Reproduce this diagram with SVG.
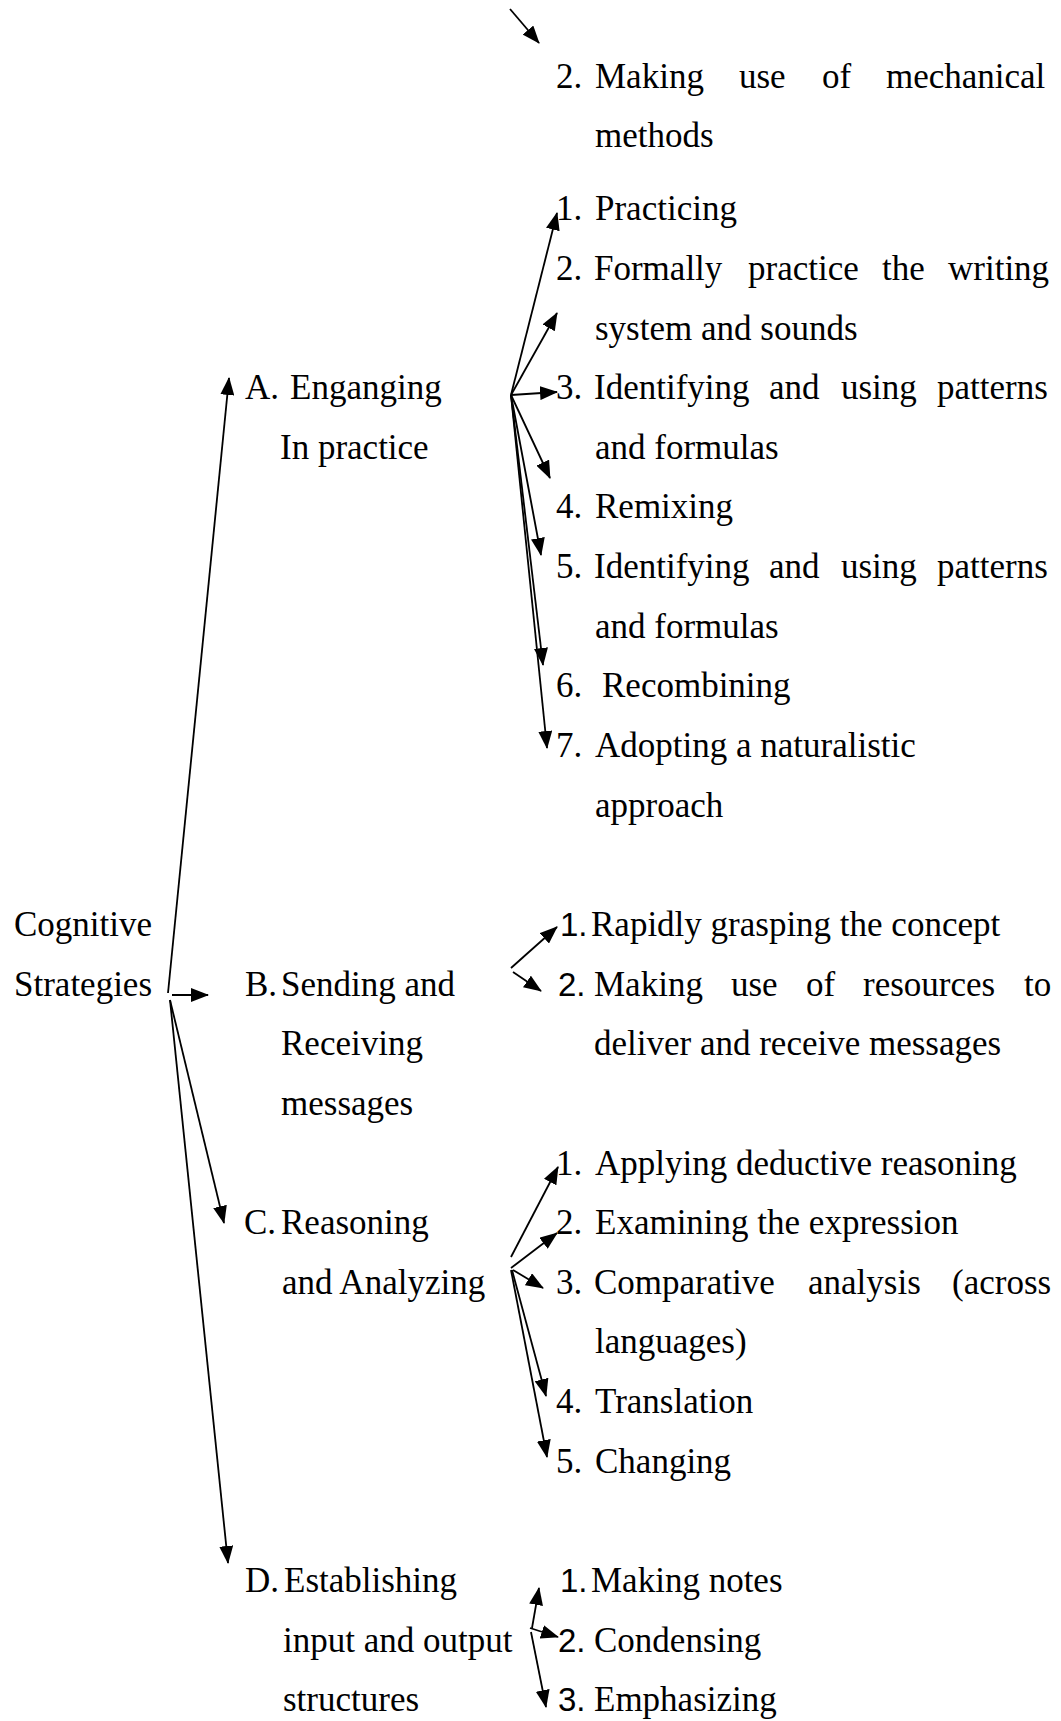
<svg xmlns="http://www.w3.org/2000/svg" width="1061" height="1721" viewBox="0 0 1061 1721">
<style>
text{font-family:"Liberation Serif","Times New Roman",serif;font-size:35px;fill:#000}
.sn{font-family:"Liberation Sans",Arial,sans-serif;font-size:33px}
.c line{stroke:#000;stroke-width:1.8;fill:none;marker-end:url(#ah)}
</style>
<defs>
<marker id="ah" markerUnits="userSpaceOnUse" markerWidth="18" markerHeight="14" refX="17" refY="7" orient="auto">
<path d="M0,0 L18,7 L0,14 z" fill="#000"/>
</marker>
</defs>
<rect width="1061" height="1721" fill="#fff"/>

<g class="c" id="connectors">
<line x1="510" y1="9" x2="539" y2="43"/>
<line x1="168" y1="993" x2="229" y2="378"/>
<line x1="172" y1="995" x2="208" y2="995"/>
<line x1="170" y1="1000" x2="224" y2="1223"/>
<line x1="170" y1="1000" x2="228" y2="1563"/>
<line x1="511" y1="395" x2="557" y2="213"/>
<line x1="511" y1="395" x2="557" y2="313"/>
<line x1="511" y1="395" x2="557" y2="392"/>
<line x1="511" y1="395" x2="550" y2="478"/>
<line x1="511" y1="395" x2="541" y2="555"/>
<line x1="511" y1="395" x2="543" y2="665"/>
<line x1="511" y1="395" x2="547" y2="748"/>
<line x1="511" y1="968" x2="557" y2="927"/>
<line x1="513" y1="972" x2="541" y2="991"/>
<line x1="511" y1="1257" x2="558" y2="1167"/>
<line x1="511" y1="1268" x2="557" y2="1233"/>
<line x1="513" y1="1270" x2="543" y2="1288"/>
<line x1="512" y1="1270" x2="546" y2="1396"/>
<line x1="511" y1="1270" x2="547" y2="1457"/>
<line x1="532" y1="1628" x2="539" y2="1588"/>
<line x1="530" y1="1628" x2="558" y2="1637"/>
<line x1="531" y1="1632" x2="546" y2="1707"/>
</g>

<g id="root">
<text x="14" y="936">Cognitive</text>
<text x="14" y="996">Strategies</text>
</g>

<g id="nodeA">
<text x="245" y="399">A.</text><text x="290" y="399">Enganging</text>
<text x="280" y="459">In practice</text>
</g>
<g id="nodeB">
<text x="245" y="996">B.</text><text x="281" y="996">Sending and</text>
<text x="281" y="1055">Receiving</text>
<text x="281" y="1115">messages</text>
</g>
<g id="nodeC">
<text x="244" y="1234">C.</text><text x="281" y="1234">Reasoning</text>
<text x="282" y="1294">and Analyzing</text>
</g>
<g id="nodeD">
<text x="245" y="1592">D.</text><text x="284" y="1592">Establishing</text>
<text x="283" y="1652">input and output</text>
<text x="283" y="1711">structures</text>
</g>

<g id="top2">
<text x="556" y="88">2.</text>
<text y="88"><tspan x="595">Making</tspan><tspan x="739">use</tspan><tspan x="822">of</tspan><tspan x="886">mechanical</tspan></text>
<text x="595" y="147">methods</text>
</g>

<g id="A1"><text x="556" y="220">1.</text><text x="595" y="220">Practicing</text></g>
<g id="A2"><text x="556" y="280">2.</text>
<text y="280"><tspan x="594">Formally</tspan><tspan x="748">practice</tspan><tspan x="882">the</tspan><tspan x="948">writing</tspan></text>
<text x="595" y="340">system and sounds</text></g>
<g id="A3"><text x="556" y="399">3.</text>
<text y="399"><tspan x="594">Identifying</tspan><tspan x="769">and</tspan><tspan x="841">using</tspan><tspan x="937">patterns</tspan></text>
<text x="595" y="459">and formulas</text></g>
<g id="A4"><text x="556" y="518">4.</text><text x="595" y="518">Remixing</text></g>
<g id="A5"><text x="556" y="578">5.</text>
<text y="578"><tspan x="594">Identifying</tspan><tspan x="769">and</tspan><tspan x="841">using</tspan><tspan x="937">patterns</tspan></text>
<text x="595" y="638">and formulas</text></g>
<g id="A6"><text x="556" y="697">6.</text><text x="602" y="697">Recombining</text></g>
<g id="A7"><text x="556" y="757">7.</text><text x="595" y="757">Adopting a naturalistic</text>
<text x="595" y="817">approach</text></g>

<g id="B1"><text class="sn" x="560" y="936">1.</text><text x="591" y="936">Rapidly grasping the concept</text></g>
<g id="B2"><text class="sn" x="558" y="996">2.</text>
<text y="996"><tspan x="594">Making</tspan><tspan x="731">use</tspan><tspan x="806">of</tspan><tspan x="863">resources</tspan><tspan x="1024">to</tspan></text>
<text x="594" y="1055">deliver and receive messages</text></g>

<g id="C1"><text x="556" y="1175">1.</text><text x="595" y="1175">Applying deductive reasoning</text></g>
<g id="C2"><text x="556" y="1234">2.</text><text x="595" y="1234">Examining the expression</text></g>
<g id="C3"><text x="556" y="1294">3.</text>
<text y="1294"><tspan x="594">Comparative</tspan><tspan x="808">analysis</tspan><tspan x="952">(across</tspan></text>
<text x="595" y="1353">languages)</text></g>
<g id="C4"><text x="556" y="1413">4.</text><text x="595" y="1413">Translation</text></g>
<g id="C5"><text x="556" y="1473">5.</text><text x="595" y="1473">Changing</text></g>

<g id="D1"><text class="sn" x="560" y="1592">1.</text><text x="591" y="1592">Making notes</text></g>
<g id="D2"><text class="sn" x="558" y="1652">2.</text><text x="594" y="1652">Condensing</text></g>
<g id="D3"><text class="sn" x="558" y="1711">3.</text><text x="594" y="1711">Emphasizing</text></g>
</svg>
